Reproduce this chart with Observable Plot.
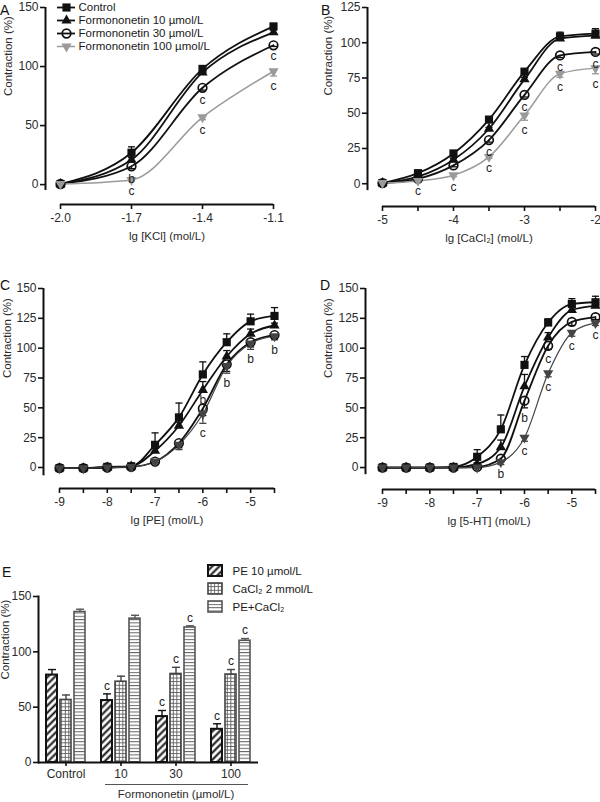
<!DOCTYPE html>
<html>
<head>
<meta charset="utf-8">
<script src="https://cdn.jsdelivr.net/npm/d3@7"></script>
<script src="https://cdn.jsdelivr.net/npm/@observablehq/plot@0.6"></script>
<style>
html,body{margin:0;padding:0;background:#fff;}
#root{position:relative;width:600px;height:802px;overflow:hidden;background:#fff;font-family:"Liberation Sans",Arial,sans-serif;color:#1a1a1a;}
.letter{position:absolute;font-size:14px;line-height:1;color:#111;}
</style>
</head>
<body>
<svg width="0" height="0" style="position:absolute;left:0;top:0">
 <defs>
  <pattern id="hatch" patternUnits="userSpaceOnUse" width="5" height="5" patternTransform="rotate(45)">
   <rect width="5" height="5" fill="#fff"/>
   <line x1="2.5" y1="-1" x2="2.5" y2="6" stroke="#111" stroke-width="2"/>
  </pattern>
  <pattern id="grid" patternUnits="userSpaceOnUse" width="3.6" height="3.6">
   <rect width="3.6" height="3.6" fill="#fff"/>
   <path d="M0,0.4H3.6M0.4,0V3.6" stroke="#555" stroke-width="0.9" fill="none"/>
  </pattern>
  <pattern id="hlines" patternUnits="userSpaceOnUse" width="4" height="3.3">
   <rect width="4" height="3.3" fill="#fff"/>
   <path d="M0,0.5H4" stroke="#666" stroke-width="1" fill="none"/>
  </pattern>
 </defs>
</svg>
<div id="root"></div>
<script>
const FONT = '"Liberation Sans", Arial, Helvetica, sans-serif';
const seriesNames = ["Control", "Formononetin 10 µmol/L", "Formononetin 30 µmol/L", "Formononetin 100 µmol/L"];
const yLabel = "Contraction (%)";

// ---- Panel A: KCl ----
const xA = [-2.0, -1.7, -1.4, -1.1];
const ctrlA = [0.5, 27, 98, 134];
const f10A = [0.5, 21, 95, 129];
const f30A = [0.5, 15.5, 82, 118];
const f100A = [0.5, 4, 57, 96];
const ctrlErrA = [0, 5, 2, 2];
const f10ErrA = [0, 2, 2, 2];
const f30ErrA = [0, 2, 2, 1];
const f100ErrA = [0, 1, 2, 4];
const f30SigA = ["", "b", "c", "c"];
const f100SigA = ["", "c", "c", "c"];
const yTicksA = [0, 50, 100, 150];
const xTicksA = [-2.0, -1.7, -1.4, -1.1];
const xLabelA = "lg [KCl] (mol/L)";

// ---- Panel B: CaCl2 ----
const xB = [-5, -4.5, -4, -3.5, -3, -2.5, -2];
const ctrlB = [0.5, 7.5, 21.5, 45.5, 79.5, 104.5, 106.5];
const f10B = [0.5, 5, 17, 39, 74, 103, 105];
const f30B = [0.5, 3.5, 13, 31, 63, 91, 93.5];
const f100B = [0.5, 2, 6, 19, 48.5, 78, 82];
const ctrlErrB = [0, 1, 1, 1.5, 1.5, 3, 3.5];
const f10ErrB = [0, 0.5, 1, 1, 1.5, 2, 2];
const f30ErrB = [0, 0.5, 1, 1.5, 1.5, 1.5, 1.5];
const f100ErrB = [0, 0.5, 1, 1, 3.5, 2.5, 4];
const f30SigB = ["", "", "", "c", "c", "c", "c"];
const f100SigB = ["", "c", "c", "c", "c", "c", "c"];
const yTicksB = [0, 25, 50, 75, 100, 125];
const xTicksB = [-5, -4.5, -4, -3.5, -3, -2.5, -2];
const xLabelTicksB = [-5, -4, -3, -2];
const xLabelB = "lg [CaCl₂] (mol/L)";

// ---- Panel C: PE ----
const xC = [-9, -8.5, -8, -7.5, -7, -6.5, -6, -5.5, -5, -4.5];
const ctrlC = [-0.5, -0.5, 0.5, 1, 19, 42, 78, 105, 122.5, 127];
const f10C = [-0.5, -0.5, 0, 1, 14, 35, 65, 93, 112, 119];
const f30C = [-0.5, -0.5, 0, 0.5, 5, 20.5, 49.5, 86.5, 105, 111];
const f100C = [-0.5, -0.5, 0, 0.5, 5, 19, 45, 85, 104, 110];
const ctrlErrC = [0, 0, 0, 0, 10, 12, 10.5, 7, 6, 7];
const f10ErrC = [0, 0, 0, 0, 2, 3, 7, 5, 4, 2];
const f30ErrC = [0, 0, 0, 0, 1, 4, 6, 6, 4, 3];
const f100ErrC = [0, 0, 0, 0, 1, 4, 8, 6, 5, 3];
const f10SigC = ["", "", "", "", "", "", "b", "", "", ""];
const f100SigC = ["", "", "", "", "", "", "c", "b", "b", "b"];
const yTicksC = [0, 25, 50, 75, 100, 125, 150];
const xTicksC = [-9, -8.5, -8, -7.5, -7, -6.5, -6, -5.5, -5, -4.5];
const xLabelTicksC = [-9, -8, -7, -6, -5];
const xLabelC = "lg [PE] (mol/L)";

// ---- Panel D: 5-HT ----
const xD = [-9, -8.5, -8, -7.5, -7, -6.5, -6, -5.5, -5, -4.5];
const ctrlD = [0, 0, 0, 0.5, 9, 32, 86, 121.5, 137, 138.5];
const f10D = [0, 0, 0, 0, 3, 17, 68, 109, 132, 135.5];
const f30D = [0, 0, 0, 0, 0.5, 7.5, 56, 102, 122, 126];
const f100D = [0, 0, 0, 0, 0, 4.5, 25, 79, 113, 121];
const ctrlErrD = [0, 0, 0, 0, 6, 12, 7, 3, 4.5, 5];
const f10ErrD = [0, 0, 0, 0, 1, 6, 10, 4, 3, 3];
const f30ErrD = [0, 0, 0, 0, 0.5, 2, 6, 3, 3, 2];
const f100ErrD = [0, 0, 0, 0, 0.5, 2, 3, 3, 3, 2];
const f30SigD = ["", "", "", "", "", "", "b", "c", "", ""];
const f100SigD = ["", "", "", "", "", "b", "c", "c", "c", "c"];
const yTicksD = [0, 25, 50, 75, 100, 125, 150];
const xTicksD = [-9, -8.5, -8, -7.5, -7, -6.5, -6, -5.5, -5, -4.5];
const xLabelTicksD = [-9, -8, -7, -6, -5];
const xLabelD = "lg [5-HT] (mol/L)";

// ---- Panel E: bars ----
const groupsE = ["Control", "10", "30", "100"];
const peE = [79, 56, 41.5, 30];
const peErrE = [5, 6, 5.5, 5];
const caE = [56.5, 73, 80, 79.5];
const caErrE = [4.5, 5, 6, 4.5];
const pecaE = [136, 130, 122, 110];
const pecaErrE = [2.5, 3, 1.5, 2];
const peSigE = ["", "c", "c", "c"];
const caSigE = ["", "", "c", "c"];
const pecaSigE = ["", "", "c", "c"];
const legendNamesE = ["PE 10 µmol/L", "CaCl₂ 2 mmol/L", "PE+CaCl₂"];
const yTicksE = [0, 50, 100, 150];
const xLabelE = "Formononetin (µmol/L)";

// ---------- helpers ----------
const root = document.getElementById("root");
const baseStyle = {fontFamily: FONT, fontSize: "12px", background: "transparent", overflow: "visible", color: "#1a1a1a"};
const capSymbol = {draw(ctx, size) { const w = Math.sqrt(size); ctx.moveTo(-w / 2, 0); ctx.lineTo(w / 2, 0); }};

function pts(xs, vals, errs, sigs) {
  return xs.map((x, i) => ({x, y: vals[i], e: errs[i], s: sigs ? sigs[i] : ""}));
}
function seriesStyles(grey, greyW) {
  return [
    {line: "#111", lw: 1.8, symbol: "square", r: 4.6, fill: "#111", stroke: "none", rotate: 0, down: false},
    {line: "#111", lw: 1.8, symbol: "triangle", r: 3.8, fill: "#111", stroke: "none", rotate: 0, down: false},
    {line: "#111", lw: 1.8, symbol: "circle", r: 4.3, fill: "none", stroke: "#111", rotate: 0, down: true},
    {line: grey, lw: greyW, symbol: "triangle", r: 3.8, fill: grey, stroke: "none", rotate: 180, down: true}
  ];
}
function place(el, left, top) {
  el.style.position = "absolute";
  el.style.left = left + "px";
  el.style.top = top + "px";
  root.appendChild(el);
}

function curvePanel(o) {
  const st = o.styles;
  const yTop = o.yTicks[o.yTicks.length - 1];
  const xFirst = o.xTicks[0], xLast = o.xTicks[o.xTicks.length - 1];
  const marks = [
    Plot.ruleX([o.xDomain[0]], {y1: o.yAxisLow, y2: yTop, stroke: "#111", strokeWidth: 2}),
    Plot.ruleY([o.yDomain[0]], {x1: xFirst, x2: xLast, stroke: "#111", strokeWidth: 2}),
    Plot.axisY({ticks: o.yTicks, tickSize: 5, tickPadding: 2, stroke: "#111", strokeWidth: 1.6, fill: "#2b2b2b", fontSize: 12, label: null}),
    Plot.axisX({ticks: o.xTicks, tickSize: 5, tickPadding: 4, stroke: "#111", strokeWidth: 1.6, fill: "#2b2b2b", fontSize: 12, label: null,
      tickFormat: d => o.xLabelTicks.includes(d) ? o.fmt(d) : ""}),
    Plot.text([o.xLabel], {x: (xFirst + xLast) / 2, frameAnchor: "bottom", dy: 35, fontSize: 11.5, fill: "#2b2b2b"}),
    Plot.text([yLabel], {y: (o.yTicks[0] + yTop) / 2, frameAnchor: "left", dx: o.yLabelDx, rotate: -90, fontSize: 11.5, fill: "#2b2b2b"})
  ];
  o.series.forEach((p, i) => {
    const s = st[i];
    marks.push(Plot.line(p, {x: "x", y: "y", curve: "monotone-x", stroke: s.line, strokeWidth: s.lw}));
  });
  o.series.forEach((p, i) => {
    const s = st[i];
    const ep = p.filter(d => d.e > 0);
    const end = d => s.down ? d.y - d.e : d.y + d.e;
    marks.push(Plot.ruleX(ep, {x: "x", y1: "y", y2: end, stroke: s.line, strokeWidth: 1.3}));
    marks.push(Plot.dot(ep, {x: "x", y: end, symbol: capSymbol, r: 4, stroke: s.line, strokeWidth: 1.3, fill: "none"}));
  });
  o.series.forEach((p, i) => {
    const s = st[i];
    marks.push(Plot.dot(p, {x: "x", y: "y", symbol: s.symbol, r: s.r, fill: s.fill, stroke: s.stroke, strokeWidth: 1.7, rotate: s.rotate}));
  });
  o.series.forEach((p, i) => {
    const s = st[i];
    const lp = p.filter(d => d.s);
    if (lp.length) marks.push(Plot.text(lp, {x: "x", y: d => s.down ? d.y - d.e : d.y, text: "s", dy: 10, fontSize: 12, fill: "#222"}));
  });
  return Plot.plot({
    width: o.width, height: o.height,
    marginLeft: o.m[0], marginRight: o.m[1], marginTop: o.m[2], marginBottom: o.m[3],
    x: {domain: o.xDomain}, y: {domain: o.yDomain},
    style: baseStyle,
    marks
  });
}

const stAB = seriesStyles("#9a9a9a", 1.5);
const stCD = seriesStyles("#444", 1.2);
const fmt1 = d => d.toFixed(1);
const fmt0 = d => String(d);

place(curvePanel({
  width: 300, height: 260, m: [45, 27, 7, 56],
  xDomain: [-2.0634, -1.1], yDomain: [-16.85, 150], yAxisLow: -5, yLabelDx: -37,
  xTicks: xTicksA, xLabelTicks: xTicksA, fmt: fmt1, yTicks: yTicksA, xLabel: xLabelA, styles: stAB,
  series: [pts(xA, ctrlA, ctrlErrA), pts(xA, f10A, f10ErrA), pts(xA, f30A, f30ErrA, f30SigA), pts(xA, f100A, f100ErrA, f100SigA)]
}), 0, 0);

place(curvePanel({
  width: 300, height: 260, m: [67, 5, 7, 54],
  xDomain: [-5.211, -2], yDomain: [-16.15, 125], yAxisLow: -4.9, yLabelDx: -39,
  xTicks: xTicksB, xLabelTicks: xLabelTicksB, fmt: fmt0, yTicks: yTicksB, xLabel: xLabelB, styles: stAB,
  series: [pts(xB, ctrlB, ctrlErrB), pts(xB, f10B, f10ErrB), pts(xB, f30B, f30ErrB, f30SigB), pts(xB, f100B, f100ErrB, f100SigB)]
}), 300, 0);

place(curvePanel({
  width: 300, height: 270, m: [43, 26, 28, 42],
  xDomain: [-9.335, -4.5], yDomain: [-17.6, 150], yAxisLow: -7, yLabelDx: -36,
  xTicks: xTicksC, xLabelTicks: xLabelTicksC, fmt: fmt0, yTicks: yTicksC, xLabel: xLabelC, styles: stCD,
  series: [pts(xC, ctrlC, ctrlErrC), pts(xC, f10C, f10ErrC, f10SigC), pts(xC, f30C, f30ErrC), pts(xC, f100C, f100ErrC, f100SigC)]
}), 0, 260);

place(curvePanel({
  width: 300, height: 270, m: [65, 5, 28, 41],
  xDomain: [-9.359, -4.5], yDomain: [-18.4, 150], yAxisLow: -6, yLabelDx: -37,
  xTicks: xTicksD, xLabelTicks: xLabelTicksD, fmt: fmt0, yTicks: yTicksD, xLabel: xLabelD, styles: stCD,
  series: [pts(xD, ctrlD, ctrlErrD), pts(xD, f10D, f10ErrD), pts(xD, f30D, f30ErrD, f30SigD), pts(xD, f100D, f100ErrD, f100SigD)]
}), 300, 260);

// ---- Legend A ----
(function () {
  const marks = [];
  stAB.forEach((s, i) => {
    const n = [seriesNames[i]];
    marks.push(Plot.tickY(n, {y: d => d, stroke: s.line, strokeWidth: s.lw}));
    marks.push(Plot.dot(n, {y: d => d, frameAnchor: "middle", symbol: s.symbol, r: s.r, fill: s.fill, stroke: s.stroke, strokeWidth: 1.7, rotate: s.rotate}));
    marks.push(Plot.text(n, {y: d => d, frameAnchor: "right", dx: 3, textAnchor: "start", fontSize: 11.5, fill: "#1a1a1a"}));
  });
  place(Plot.plot({
    width: 200, height: 55, marginLeft: 2, marginRight: 180, marginTop: 0, marginBottom: 0,
    y: {type: "point", domain: seriesNames, padding: 0.5, axis: null},
    style: baseStyle, marks
  }), 55, -1);
})();

// ---- Panel E ----
const barStyles = [
  {fill: "url(#hatch)", stroke: "#111", sw: 2, dx: -14},
  {fill: "url(#grid)", stroke: "#444", sw: 1.6, dx: 0},
  {fill: "url(#hlines)", stroke: "#555", sw: 1.6, dx: 14}
];
const dataE = [
  groupsE.map((g, i) => ({g, v: peE[i], e: peErrE[i], s: peSigE[i]})),
  groupsE.map((g, i) => ({g, v: caE[i], e: caErrE[i], s: caSigE[i]})),
  groupsE.map((g, i) => ({g, v: pecaE[i], e: pecaErrE[i], s: pecaSigE[i]}))
];
(function () {
  const marks = [];
  dataE.forEach((d, k) => {
    const b = barStyles[k];
    marks.push(Plot.barY(d, {x: "g", y: "v", fill: b.fill, stroke: b.stroke, strokeWidth: b.sw, insetLeft: 22, insetRight: 22, dx: b.dx}));
    marks.push(Plot.ruleX(d, {x: "g", y1: "v", y2: p => p.v + p.e, stroke: b.stroke, strokeWidth: 1.4, dx: b.dx}));
    marks.push(Plot.dot(d, {x: "g", y: p => p.v + p.e, symbol: capSymbol, r: 4.5, stroke: b.stroke, strokeWidth: 1.4, fill: "none", dx: b.dx}));
    marks.push(Plot.text(d.filter(p => p.s), {x: "g", y: p => p.v + p.e, text: "s", dy: -8, dx: b.dx, fontSize: 12, fill: "#222"}));
  });
  marks.push(Plot.frame({anchor: "left", stroke: "#111", strokeWidth: 2}));
  marks.push(Plot.ruleY([0], {stroke: "#111", strokeWidth: 2}));
  marks.push(Plot.axisY({ticks: yTicksE, tickSize: 5, tickPadding: 2, stroke: "#111", strokeWidth: 1.6, fill: "#2b2b2b", fontSize: 12, label: null}));
  marks.push(Plot.axisX({tickSize: 4, tickPadding: 3, stroke: "#111", strokeWidth: 1.6, fill: "#2b2b2b", fontSize: 12, label: null}));
  marks.push(Plot.ruleY([0], {x1: () => groupsE[1], x2: () => groupsE[3], dy: 22, insetLeft: 12, insetRight: 10, stroke: "#555", strokeWidth: 1}));
  marks.push(Plot.text([xLabelE], {x: () => groupsE[2], frameAnchor: "bottom", dy: 35, fontSize: 11.5, fill: "#2b2b2b"}));
  marks.push(Plot.text([yLabel], {y: (yTicksE[0] + yTicksE[yTicksE.length - 1]) / 2, frameAnchor: "left", dx: -33, rotate: -90, fontSize: 11.5, fill: "#2b2b2b"}));
  place(Plot.plot({
    width: 300, height: 272, marginLeft: 38, marginRight: 42, marginTop: 66, marginBottom: 40,
    x: {type: "band", domain: groupsE, padding: 0},
    y: {domain: [0, 150]},
    style: baseStyle, marks
  }), 0, 530);

  const lm = legendNamesE.map((n, k) => Plot.cell([n], {x: () => "k", y: d => d, fill: barStyles[k].fill, stroke: barStyles[k].stroke, strokeWidth: barStyles[k].sw}));
  lm.push(Plot.text(legendNamesE, {y: d => d, frameAnchor: "right", dx: 10, textAnchor: "start", fontSize: 11.5, fill: "#1a1a1a"}));
  place(Plot.plot({
    width: 110, height: 55.5, marginLeft: 1, marginRight: 95, marginTop: 0, marginBottom: 0,
    x: {type: "band", domain: ["k"], padding: 0, axis: null},
    y: {type: "band", domain: legendNamesE, paddingInner: 0.4, paddingOuter: 0.2, axis: null},
    style: baseStyle, marks: lm
  }), 207, 561);
})();

// panel letters
[["A", 0, 3], ["B", 321, 3], ["C", 0, 278], ["D", 320, 278], ["E", 2, 565]].forEach(([t, l, tp]) => {
  const d = document.createElement("div");
  d.className = "letter";
  d.textContent = t;
  d.style.left = l + "px";
  d.style.top = tp + "px";
  root.appendChild(d);
});
</script>
</body>
</html>
